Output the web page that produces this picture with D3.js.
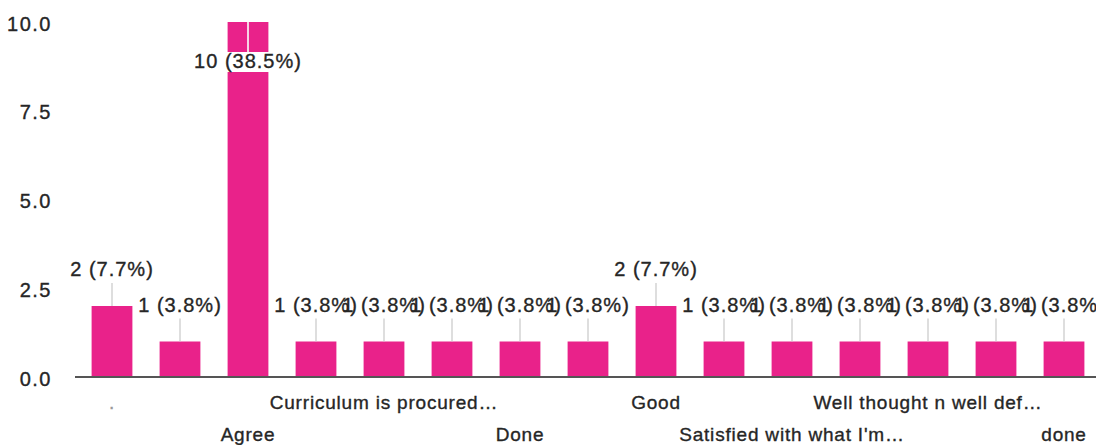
<!DOCTYPE html>
<html>
<head>
<meta charset="utf-8">
<script src="https://cdn.jsdelivr.net/npm/d3@7"></script>
<style>
  html, body { margin: 0; padding: 0; background: #fff; }
  svg { display: block; }
  text { font-family: "Liberation Sans", Arial, sans-serif; fill: #262626; stroke: #262626; stroke-width: 0.35px; }
</style>
</head>
<body>
<svg id="chart" width="1096" height="445"></svg>
<script>
// Categories (only every other one is printed on the axis; the hidden ones are unreadable)
const categories = [".", "", "Agree", "", "Curriculum is procured\u2026", "", "Done", "",
                    "Good", "", "Satisfied with what I'm\u2026", "", "Well thought n well def\u2026", "", "done"];
const counts = [2, 1, 10, 1, 1, 1, 1, 1, 2, 1, 1, 1, 1, 1, 1];
const percents = ["7.7%", "3.8%", "38.5%", "3.8%", "3.8%", "3.8%", "3.8%", "3.8%",
                  "7.7%", "3.8%", "3.8%", "3.8%", "3.8%", "3.8%", "3.8%"];
const yTicks = [0, 2.5, 5, 7.5, 10];

const svg = d3.select("#chart");
const barColor = "#e9228a";

const idx = categories.map((d, i) => i);
const x = d3.scaleBand().domain(idx).range([78, 1098]).paddingInner(0.4).paddingOuter(0.2);
const y = d3.scaleLinear().domain([0, 10]).range([377, 22]);

// Y axis labels
const yAxis = svg.append("g").attr("transform", "translate(52,0)")
  .call(d3.axisLeft(y).tickValues(yTicks).tickFormat(d3.format(".1f")).tickSize(0).tickPadding(0));
yAxis.select(".domain").remove();
yAxis.selectAll("text")
  .style("font-size", "20px")
  .style("font-family", "'Liberation Sans', Arial, sans-serif")
  .style("letter-spacing", "1.5px")
  .attr("fill", "#262626")
  .attr("x", 0)
  .attr("dy", "0.4em");

// Bars
svg.append("g").selectAll("rect")
  .data(counts)
  .join("rect")
  .attr("x", (d, i) => x(i))
  .attr("y", d => y(d))
  .attr("width", x.bandwidth())
  .attr("height", d => y(0) - y(d))
  .attr("fill", barColor);

// Baseline
svg.append("line")
  .attr("x1", 75).attr("x2", 1096)
  .attr("y1", y(0)).attr("y2", y(0))
  .attr("stroke", "#555").attr("stroke-width", 2);

// Data labels with leader lines
const labels = svg.append("g");
counts.forEach((v, i) => {
  const cx = x(i) + x.bandwidth() / 2;
  const top = y(v);
  const txt = v + " (" + percents[i] + ")";
  if (v === d3.max(counts)) {
    const ty = top + 46;
    const t = labels.append("text")
      .attr("x", cx).attr("y", ty)
      .attr("text-anchor", "middle")
      .style("font-size", "20px")
      .style("letter-spacing", "1px")
      .text(txt);
    const bb = t.node().getBBox();
    labels.insert("rect", "text")
      .attr("x", bb.x - 1).attr("y", bb.y + 2)
      .attr("width", bb.width + 2).attr("height", bb.height - 2)
      .attr("fill", "#fff");
    labels.append("line")
      .attr("x1", cx).attr("x2", cx)
      .attr("y1", top).attr("y2", bb.y + 2)
      .attr("stroke", "#f6d3e4").attr("stroke-width", 2);
  } else {
    const ty = top - 30;
    labels.append("line")
      .attr("x1", cx).attr("x2", cx)
      .attr("y1", ty + 7).attr("y2", top)
      .attr("stroke", "#c8c8c8").attr("stroke-width", 1.2);
    labels.append("text")
      .attr("x", cx).attr("y", ty)
      .attr("text-anchor", "middle")
      .style("font-size", "20px")
      .style("letter-spacing", "1px")
      .text(txt);
  }
});

// X axis labels (every other category, staggered over two rows)
const xl = svg.append("g");
categories.forEach((c, i) => {
  if (i % 2 !== 0 || !c) return;
  const cx = x(i) + x.bandwidth() / 2;
  const row = (i / 2) % 2;
  xl.append("text")
    .attr("x", cx)
    .attr("y", row === 0 ? 409 : 441)
    .attr("text-anchor", "middle")
    .style("font-size", "19px")
    .style("letter-spacing", "0.8px")
    .style("fill", c === "." ? "#999" : null)
    .style("stroke", c === "." ? "#999" : null)
    .text(c);
});
</script>
</body>
</html>
